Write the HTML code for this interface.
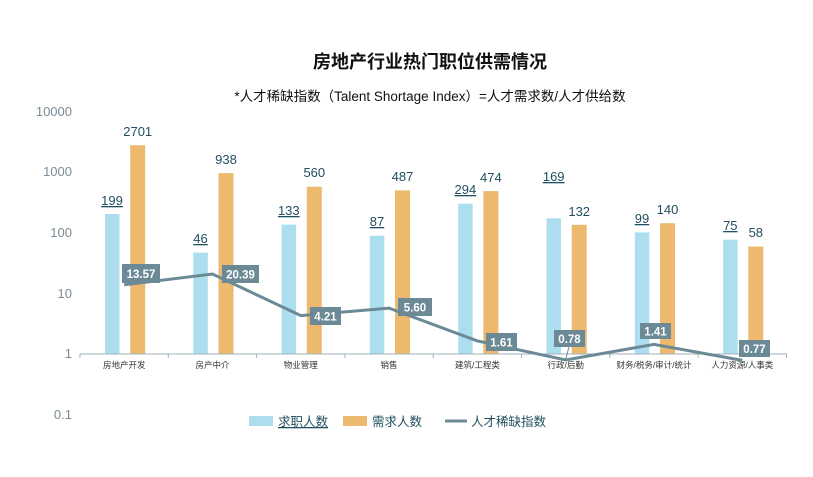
<!DOCTYPE html><html><head><meta charset="utf-8"><style>body{margin:0;background:#fff}svg{display:block}text{font-family:"Liberation Sans","Noto Sans CJK SC",sans-serif}</style></head><body>
<svg width="813" height="477" viewBox="0 0 813 477">
<text x="430" y="68" font-size="18" font-weight="bold" text-anchor="middle" fill="#111">房地产行业热门职位供需情况</text>
<text x="430" y="101" font-size="13.5" text-anchor="middle" fill="#111">*人才稀缺指数（Talent Shortage Index）=人才需求数/人才供给数</text>
<g font-size="13" fill="#7a8c95" text-anchor="end">
<text x="72" y="116">10000</text><text x="72" y="176">1000</text><text x="72" y="237">100</text><text x="72" y="298">10</text><text x="72" y="358">1</text><text x="72" y="419">0.1</text></g>
<g fill="#acdeef">
<rect x="105" y="214" width="14.5" height="140"/><rect x="193.3" y="252.6" width="14.5" height="101.4"/><rect x="281.6" y="224.6" width="14.5" height="129.4"/><rect x="369.8" y="235.8" width="14.5" height="118.2"/><rect x="458.2" y="203.7" width="14.5" height="150.3"/><rect x="546.5" y="218.3" width="14.5" height="135.7"/><rect x="634.8" y="232.4" width="14.5" height="121.6"/><rect x="723.1" y="239.7" width="14.5" height="114.3"/></g>
<g fill="#edb96f">
<rect x="130.2" y="145.2" width="15" height="208.8"/><rect x="218.5" y="173.1" width="15" height="180.9"/><rect x="306.8" y="186.7" width="15" height="167.3"/><rect x="395" y="190.4" width="15" height="163.6"/><rect x="483.4" y="191.1" width="15" height="162.9"/><rect x="571.7" y="224.8" width="15" height="129.2"/><rect x="660" y="223.2" width="15" height="130.8"/><rect x="748.3" y="246.5" width="15" height="107.5"/></g>
<g font-size="13" fill="#1f4e5f" text-anchor="middle" text-decoration="underline">
<text x="112" y="205">199</text><text x="200.5" y="243">46</text><text x="288.8" y="215">133</text><text x="377" y="226">87</text><text x="465.4" y="194">294</text><text x="553.7" y="181">169</text><text x="642" y="223">99</text><text x="730.3" y="230">75</text></g>
<g font-size="13" fill="#1f4e5f" text-anchor="middle">
<text x="137.7" y="136">2701</text><text x="226" y="164">938</text><text x="314.3" y="177">560</text><text x="402.5" y="181">487</text><text x="490.9" y="182">474</text><text x="579.2" y="216">132</text><text x="667.5" y="214">140</text><text x="755.8" y="237">58</text></g>
<line x1="80" y1="354" x2="787" y2="354" stroke="#9fb3bb" stroke-width="1"/>
<g stroke="#9fb3bb"><line x1="80" y1="354" x2="80" y2="358"/><line x1="168.3" y1="354" x2="168.3" y2="358"/><line x1="256.6" y1="354" x2="256.6" y2="358"/><line x1="344.9" y1="354" x2="344.9" y2="358"/><line x1="433.2" y1="354" x2="433.2" y2="358"/><line x1="521.5" y1="354" x2="521.5" y2="358"/><line x1="609.8" y1="354" x2="609.8" y2="358"/><line x1="698.1" y1="354" x2="698.1" y2="358"/><line x1="786.4" y1="354" x2="786.4" y2="358"/></g>
<g font-size="8.5" fill="#333" text-anchor="middle">
<text x="124.2" y="368">房地产开发</text><text x="212.5" y="368">房产中介</text><text x="300.8" y="368">物业管理</text><text x="389" y="368">销售</text><text x="477.4" y="368">建筑/工程类</text><text x="565.7" y="368">行政/后勤</text><text x="654" y="368">财务/税务/审计/统计</text><text x="742.3" y="368">人力资源/人事类</text></g>
<polyline points="124.2,284.8 212.5,274 300.8,315.6 389,308.1 477.4,340.9 565.7,360 654,344.4 742.3,360.4" fill="none" stroke="#6b8a95" stroke-width="3"/>
<line x1="569" y1="347" x2="565.7" y2="359" stroke="#6b8a95" stroke-width="1"/>
<g fill="#6b8a95"><rect x="122" y="264" width="38" height="19"/><rect x="222" y="265" width="37" height="18"/><rect x="310" y="307" width="31" height="18"/><rect x="398" y="298" width="34" height="18"/><rect x="486" y="333" width="31" height="18"/><rect x="554" y="330" width="31" height="17"/><rect x="640" y="323" width="31" height="16"/><rect x="739" y="340" width="31" height="17"/></g>
<g font-size="11.5" font-weight="bold" fill="#fff" text-anchor="middle">
<text x="141" y="278">13.57</text><text x="240.5" y="278.5">20.39</text><text x="325.5" y="320.5">4.21</text><text x="415" y="311.5">5.60</text><text x="501.5" y="346.5">1.61</text><text x="569.5" y="343">0.78</text><text x="655.5" y="335.5">1.41</text><text x="754.5" y="353">0.77</text></g>
<rect x="249" y="416" width="24" height="10" fill="#acdeef"/>
<text x="278" y="426" font-size="12.5" fill="#1f4e5f" text-decoration="underline">求职人数</text>
<rect x="343" y="416" width="24" height="10" fill="#edb96f"/>
<text x="372" y="426" font-size="12.5" fill="#1f4e5f">需求人数</text>
<line x1="445" y1="421" x2="467" y2="421" stroke="#6b8a95" stroke-width="3"/>
<text x="471" y="426" font-size="12.5" fill="#1f4e5f">人才稀缺指数</text>
</svg></body></html>
